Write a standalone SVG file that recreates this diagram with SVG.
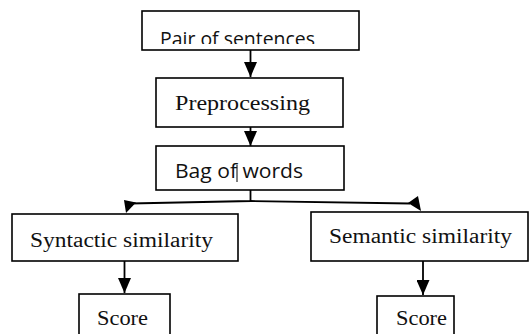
<svg xmlns="http://www.w3.org/2000/svg" width="529" height="334" viewBox="0 0 529 334">
<style>
.box{fill:#fff;stroke:#000;stroke-width:1.6}
.sans{font-family:"Open Sans","Liberation Sans",sans-serif;font-size:20px;fill:#111}
.serif{font-family:"Liberation Serif","DejaVu Serif",serif;font-size:20.5px;fill:#111}
.ln{stroke:#000;stroke-width:1.8;fill:none}
</style>
<defs>
<marker id="ah" viewBox="0 0 10 10" refX="10" refY="5" markerWidth="15" markerHeight="13" markerUnits="userSpaceOnUse" orient="auto" preserveAspectRatio="none">
<path d="M0,0 L10,5 L0,10 Z" fill="#000"/>
</marker>
<clipPath id="clipPair"><rect x="140" y="10" width="222" height="34"/></clipPath>
</defs>
<rect x="0" y="0" width="529" height="334" fill="#fff"/>
<g id="connectors">
<line class="ln" x1="250.5" y1="50" x2="250.5" y2="77" marker-end="url(#ah)"/>
<line class="ln" x1="250.5" y1="127" x2="250.5" y2="146" marker-end="url(#ah)"/>
<polyline class="ln" points="250.5,190 250.5,201 130,203.5"/>
<polyline class="ln" points="250.5,201 410,203.5"/>
<polygon points="124,200 136,202.5 126,213" fill="#000"/>
<polygon points="418,196 421,211 408,203" fill="#000"/>
<line class="ln" x1="124.5" y1="261" x2="124.5" y2="293" marker-end="url(#ah)"/>
<line class="ln" x1="423" y1="261" x2="423" y2="295" marker-end="url(#ah)"/>
</g>
<g id="pair">
<rect class="box" x="142" y="11" width="217" height="39"/>
<text class="sans" x="160" y="46" textLength="155" lengthAdjust="spacingAndGlyphs" clip-path="url(#clipPair)">Pair of sentences</text>
</g>
<g id="preprocessing">
<rect class="box" x="156" y="78" width="187" height="49"/>
<text class="serif" x="175" y="110" textLength="135" lengthAdjust="spacingAndGlyphs">Preprocessing</text>
</g>
<g id="bag">
<rect class="box" x="156" y="146" width="188" height="44"/>
<text class="sans" x="175" y="178" textLength="128" lengthAdjust="spacingAndGlyphs">Bag of words</text>
<line x1="237" y1="165" x2="237" y2="182" stroke="#000" stroke-width="1"/>
</g>
<g id="syntactic">
<rect class="box" x="12" y="214" width="226" height="47"/>
<text class="serif" x="30" y="247" textLength="183" lengthAdjust="spacingAndGlyphs">Syntactic similarity</text>
</g>
<g id="semantic">
<rect class="box" x="311" y="212" width="217" height="49"/>
<text class="serif" x="329" y="243" textLength="183" lengthAdjust="spacingAndGlyphs">Semantic similarity</text>
</g>
<g id="score1">
<rect class="box" x="79" y="294" width="91" height="50"/>
<text class="serif" x="97" y="325" textLength="51" lengthAdjust="spacingAndGlyphs">Score</text>
</g>
<g id="score2">
<rect class="box" x="377" y="296" width="77" height="50"/>
<text class="serif" x="396" y="325" textLength="51" lengthAdjust="spacingAndGlyphs">Score</text>
</g>
</svg>
